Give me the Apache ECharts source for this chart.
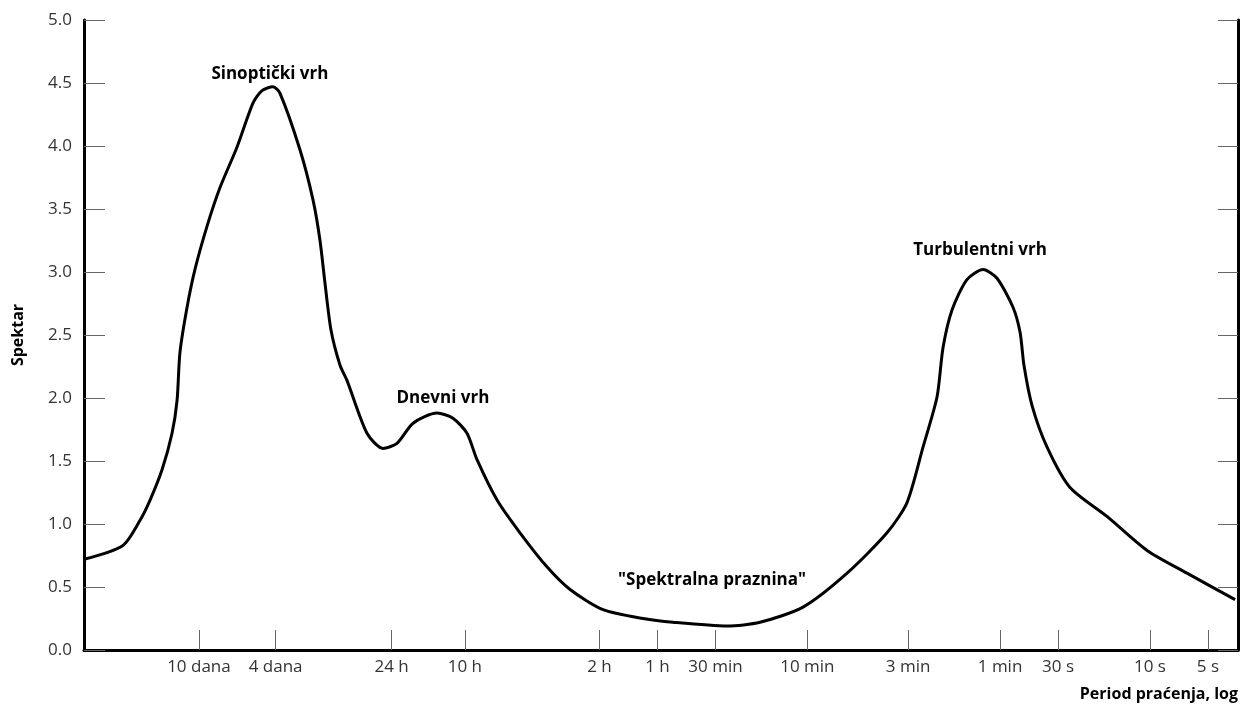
<!DOCTYPE html>
<html>
<head>
<meta charset="utf-8">
<title>Spektar</title>
<script src="https://cdn.jsdelivr.net/npm/echarts@6/dist/echarts.min.js"></script>
<style>
  html, body { margin: 0; padding: 0; background: #fff; }
  #chart { width: 1254px; height: 707px; }
</style>
</head>
<body>
<div id="chart"></div>
<script>
// x os: log10 perioda u sekundama (os je obrnuta - dugi periodi lijevo)
var tickSeconds = [864000, 345600, 86400, 36000, 7200, 3600, 1800, 600, 180, 60, 30, 10, 5];
var tickLabels = ["10 dana", "4 dana", "24 h", "10 h", "2 h", "1 h", "30 min", "10 min", "3 min", "1 min", "30 s", "10 s", "5 s"];

// krivulja spektra, procitano sa slike
var logPeriod = [6.533, 6.331, 6.242, 6.190, 6.128, 6.076, 6.050, 6.035, 5.998, 5.957,
  5.895, 5.827, 5.739, 5.656, 5.609, 5.552, 5.516, 5.412, 5.344, 5.308,
  5.282, 5.251, 5.204, 5.168, 5.064, 4.981, 4.908, 4.825, 4.701, 4.618, 4.545,
  4.493, 4.389, 4.270, 4.130, 4.010, 3.839, 3.631, 3.476, 3.195, 3.024,
  2.801, 2.572, 2.365, 2.261, 2.178, 2.105, 2.074, 2.027, 1.950, 1.866,
  1.794, 1.711, 1.674, 1.654, 1.612, 1.534, 1.415, 1.223, 1.015, 0.808, 0.558];
var spectrum = [0.72, 0.83, 1.03, 1.19, 1.43, 1.72, 1.98, 2.36, 2.72, 3.02,
  3.36, 3.67, 3.99, 4.34, 4.44, 4.47, 4.42, 3.97, 3.57, 3.25,
  2.91, 2.54, 2.26, 2.14, 1.72, 1.60, 1.64, 1.80, 1.88, 1.84, 1.72,
  1.51, 1.19, 0.93, 0.66, 0.48, 0.32, 0.25, 0.22, 0.19, 0.22,
  0.34, 0.61, 0.93, 1.17, 1.61, 2.01, 2.40, 2.70, 2.94, 3.02,
  2.95, 2.72, 2.52, 2.26, 1.94, 1.61, 1.29, 1.06, 0.79, 0.61, 0.40];

var noteLabels = ["Sinoptički vrh", "Dnevni vrh", "\"Spektralna praznina\"", "Turbulentni vrh"];
var noteLogPeriod = [5.568, 4.670, 3.273, 1.882];
var noteValue = [4.57, 2.0, 0.556, 3.17];

var font = "'Open Sans', 'Noto Sans', sans-serif";

var chart = echarts.init(document.getElementById("chart"));

var curve = [];
for (var i = 0; i < logPeriod.length; i++) {
  curve.push([logPeriod[i], spectrum[i]]);
}
var tickValues = tickSeconds.map(function (s) { return Math.log10(s); });
var notes = noteLabels.map(function (t, i) {
  return { name: t, coord: [noteLogPeriod[i], noteValue[i]], value: t };
});

chart.setOption({
  backgroundColor: "#fff",
  animation: false,
  grid: { left: 84, right: 16, top: 20, bottom: 57 },
  xAxis: {
    type: "value",
    inverse: true,
    min: 0.543,
    max: 6.533,
    name: "Period praćenja, log",
    nameLocation: "start",
    nameGap: 0,
    nameTextStyle: {
      fontFamily: font, fontSize: 16, fontWeight: "bold", color: "#000",
      align: "right", verticalAlign: "top", padding: [36, 0, 0, 0]
    },
    axisLine: { lineStyle: { color: "#000", width: 3 } },
    axisTick: {
      inside: true, length: 20, customValues: tickValues,
      lineStyle: { color: "#666", width: 1 }
    },
    axisLabel: {
      customValues: tickValues,
      margin: 9,
      fontFamily: font, fontSize: 17, color: "#333",
      formatter: function (v) {
        var k = tickValues.indexOf(v);
        return k >= 0 ? tickLabels[k] : "";
      }
    },
    splitLine: { show: false }
  },
  yAxis: [
    {
      type: "value",
      min: 0, max: 5, interval: 0.5,
      name: "Spektar",
      nameLocation: "middle",
      nameGap: 58,
      nameTextStyle: { fontFamily: font, fontSize: 16, fontWeight: "bold", color: "#000" },
      axisLine: { show: true, lineStyle: { color: "#000", width: 3 } },
      axisTick: { show: true, inside: true, length: 21, lineStyle: { color: "#666", width: 1 } },
      axisLabel: {
        margin: 12, fontFamily: font, fontSize: 17, color: "#333",
        formatter: function (v) { return v.toFixed(1); }
      },
      splitLine: { show: false }
    },
    {
      type: "value",
      position: "right",
      min: 0, max: 5, interval: 0.5,
      axisLine: { show: true, lineStyle: { color: "#000", width: 3 } },
      axisTick: { show: true, inside: true, length: 20, lineStyle: { color: "#666", width: 1 } },
      axisLabel: { show: false },
      splitLine: { show: false }
    }
  ],
  series: [
    {
      type: "line",
      data: curve,
      showSymbol: false,
      smooth: 0.25,
      lineStyle: { color: "#000", width: 3 },
      markPoint: {
        symbol: "circle",
        symbolSize: 0,
        label: {
          show: true,
          position: "inside",
          fontFamily: font, fontSize: 17, fontWeight: "bold", color: "#000",
          formatter: function (p) { return p.name; }
        },
        data: notes
      }
    }
  ]
});
</script>
</body>
</html>
